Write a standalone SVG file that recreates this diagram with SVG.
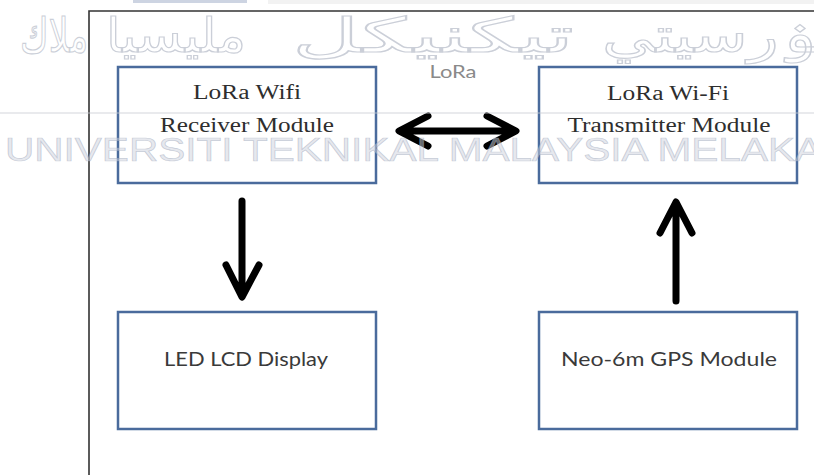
<svg xmlns="http://www.w3.org/2000/svg" width="814" height="475" viewBox="0 0 814 475">
  <style>
    .box { fill: #ffffff; stroke: #4a6b9c; stroke-width: 2.5; }
    .serif { font-family: "Liberation Serif", "Times New Roman", serif; font-size: 20px; fill: #2e2e2e; }
    .sans { font-family: Lato, "Open Sans", "Liberation Sans", sans-serif; font-size: 20px; fill: #3a3a3a; }
    .arrow { fill: none; stroke: #000000; stroke-width: 7; stroke-linecap: round; stroke-linejoin: round; }
    .mark { font-family: "Liberation Sans", Arial, sans-serif; font-size: 34px; fill: #cdd2de; fill-opacity: 0.5; stroke: #a2aabd; stroke-opacity: 0.55; stroke-width: 0.7; }
    .jawi { font-family: "DejaVu Sans", sans-serif; font-size: 48px; fill: none; stroke: #cbcfd8; stroke-width: 1.2; }
  </style>

  <rect width="814" height="475" fill="#ffffff"/>

  <!-- page strips at the top edge -->
  <rect x="133" y="0" width="114" height="3" fill="#cdd4e2"/>
  <rect x="268" y="0" width="546" height="4" fill="#f2f2f2"/>

  <!-- outer frame -->
  <path d="M89 475 V11 H814" fill="none" stroke="#333333" stroke-width="1.6"/>

  <g id="receiver">
    <rect class="box" x="118" y="67" width="258" height="116"/>
    <text class="serif" x="247" y="99" text-anchor="middle" textLength="108" lengthAdjust="spacingAndGlyphs">LoRa Wifi</text>
    <text class="serif" x="247" y="132" text-anchor="middle" textLength="174" lengthAdjust="spacingAndGlyphs">Receiver Module</text>
  </g>

  <g id="transmitter">
    <rect class="box" x="539" y="67" width="258" height="116"/>
    <text class="serif" x="668" y="100" text-anchor="middle" textLength="122" lengthAdjust="spacingAndGlyphs">LoRa Wi-Fi</text>
    <text class="serif" x="669" y="132" text-anchor="middle" textLength="203" lengthAdjust="spacingAndGlyphs">Transmitter Module</text>
  </g>

  <g id="display">
    <rect class="box" x="118" y="312" width="258" height="117"/>
    <text class="sans" x="246" y="366" text-anchor="middle" textLength="164" lengthAdjust="spacingAndGlyphs">LED LCD Display</text>
  </g>

  <g id="gps">
    <rect class="box" x="539" y="312" width="258" height="117"/>
    <text class="sans" x="669" y="366" text-anchor="middle" textLength="216" lengthAdjust="spacingAndGlyphs">Neo-6m GPS Module</text>
  </g>

  <g id="connectors">
    <!-- LoRa link between the two modules -->
    <path class="arrow" d="M400 131 H515 M428 116 L399 131 L428 146 M487 116 L516 131 L487 146"/>
    <text x="453" y="78" text-anchor="middle" textLength="47" lengthAdjust="spacingAndGlyphs" font-family="Lato, 'Open Sans', sans-serif" font-size="18" fill="#8a8a8a">LoRa</text>
    <!-- receiver to display -->
    <path class="arrow" d="M242 201 V296 M226 265 L242 297 L259 265"/>
    <!-- GPS to transmitter -->
    <path class="arrow" d="M676 301 V203 M660 233 L676 202 L692 233"/>
  </g>

  <!-- watermark: Jawi heading (one word at a time), rule and Latin name -->
  <g id="watermark">
    <text class="jawi" x="20" y="52" direction="rtl" text-anchor="end" textLength="68" lengthAdjust="spacingAndGlyphs">ملاك</text>
    <text class="jawi" x="106" y="52" direction="rtl" text-anchor="end" textLength="140" lengthAdjust="spacingAndGlyphs">مليسيا</text>
    <text class="jawi" x="292" y="52" direction="rtl" text-anchor="end" textLength="282" lengthAdjust="spacingAndGlyphs">تيكنيكل</text>
    <text class="jawi" x="602" y="52" direction="rtl" text-anchor="end" textLength="300" lengthAdjust="spacingAndGlyphs">اونيۏرسيتي</text>
    <line x1="0" y1="113" x2="814" y2="113" stroke="#c8cbd2" stroke-width="1.2" stroke-opacity="0.8"/>
    <text class="mark" x="5" y="161" textLength="817" lengthAdjust="spacingAndGlyphs">UNIVERSITI TEKNIKAL MALAYSIA MELAKA</text>
  </g>
</svg>
